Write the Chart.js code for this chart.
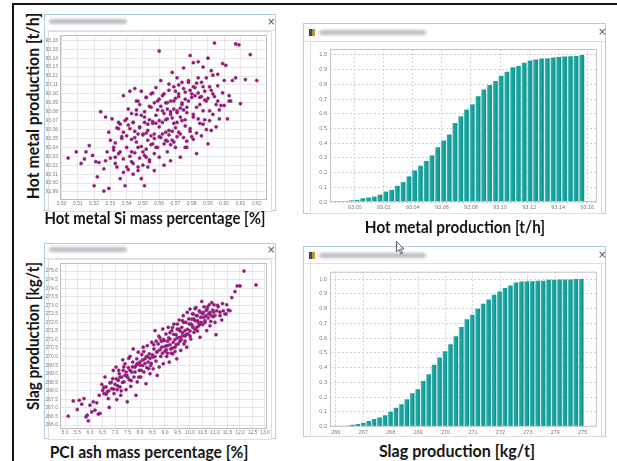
<!DOCTYPE html>
<html><head><meta charset="utf-8">
<script src="https://cdn.jsdelivr.net/npm/chart.js@4.4.1/dist/chart.umd.min.js"></script>
<style>
html,body{margin:0;padding:0;background:#fff;width:617px;height:461px;overflow:hidden;position:relative;font-family:'Liberation Sans',sans-serif;}
.frame{position:absolute;left:12px;top:3px;width:700px;height:520px;border:2px solid #141414;}
.win{position:absolute;background:#fff;border:1px solid #b3cde0;box-sizing:border-box;}
.tbar{position:absolute;left:0;right:0;top:0;background:#fff;border-bottom:1px solid #e4e4e4;}
.blur{position:absolute;height:5px;background:#b9bec4;border-radius:3px;filter:blur(1.4px);}
.close{position:absolute;font:10px 'DejaVu Sans',sans-serif;color:#555;line-height:10px;}
.icon{position:absolute;width:6px;height:7px;background:linear-gradient(90deg,#2a4c78 0 45%,#c98a2a 45% 100%);}
.panel{position:absolute;border:1px solid #dedede;background:#fff;box-sizing:border-box;}
canvas{position:absolute;}
.lbl{position:absolute;white-space:nowrap;font:700 17px Lato,'Open Sans',sans-serif;color:#161616;line-height:20px;}
</style></head>
<body>
<div class="frame"></div>

<div class="win" style="left:44px;top:14px;width:232px;height:197px;">
  <div class="tbar" style="height:15px;"><div class="blur" style="left:4px;top:4px;width:78px;"></div><div class="close" style="left:222px;top:2px;">×</div></div>
  <div class="panel" style="left:3px;right:3px;top:16px;bottom:-2px;"></div>
</div>
<div class="win" style="left:303px;top:23px;width:303px;height:191px;">
  <div class="tbar" style="height:17px;"><div class="icon" style="left:5px;top:5px;"></div><div class="blur" style="left:15px;top:6px;width:107px;"></div><div class="close" style="left:294px;top:3px;">×</div></div>
  <div class="panel" style="left:6px;right:3px;top:17px;bottom:-1px;"></div>
</div>
<div class="win" style="left:44px;top:243px;width:232px;height:196px;">
  <div class="tbar" style="height:14px;"><div class="blur" style="left:4px;top:3px;width:78px;"></div><div class="close" style="left:222px;top:1px;">×</div></div>
  <div class="panel" style="left:3px;right:3px;top:15px;bottom:-2px;"></div>
</div>
<div class="win" style="left:303px;top:246px;width:303px;height:191px;">
  <div class="tbar" style="height:16px;"><div class="icon" style="left:5px;top:5px;"></div><div class="blur" style="left:15px;top:6px;width:107px;"></div><div class="close" style="left:294px;top:3px;">×</div></div>
  <div class="panel" style="left:6px;right:3px;top:16px;bottom:-1px;"></div>
</div>

<canvas id="c1" width="232" height="178" style="left:44px;top:30px;width:232px;height:178px;"></canvas>
<canvas id="c2" width="294" height="172" style="left:308px;top:41px;width:294px;height:172px;"></canvas>
<canvas id="c3" width="232" height="180" style="left:44px;top:258px;width:232px;height:180px;"></canvas>
<canvas id="c4" width="294" height="172" style="left:308px;top:264px;width:294px;height:172px;"></canvas>

<div class="lbl" data-w="186" data-r="1" style="left:33px;top:106px;">Hot metal production [t/h]</div>
<div class="lbl" data-w="221" style="left:155px;top:218px;">Hot metal Si mass percentage [%]</div>
<div class="lbl" data-w="180" style="left:455px;top:227px;">Hot metal production [t/h]</div>
<div class="lbl" data-w="148" data-r="1" style="left:33px;top:336px;">Slag production [kg/t]</div>
<div class="lbl" data-w="199" style="left:149px;top:452px;">PCI ash mass percentage [%]</div>
<div class="lbl" data-w="156" style="left:457px;top:451px;">Slag production [kg/t]</div>

<svg style="position:absolute;left:396px;top:241px;" width="10" height="14" viewBox="0 0 10 14"><path d="M0.5 0.5 L0.5 11 L3 8.5 L5 13 L6.5 12.3 L4.6 8 L8 8 Z" fill="#fff" stroke="#333" stroke-width="0.8"/></svg>

<script>
// ---- Data ----
// Top-left: Hot metal Si mass percentage [%] (x) vs Hot metal production [t/h] (y)
const siMassVsHotMetal = [
[0.504,93.028],[0.509,93.035],[0.512,93.022],[0.514,93.027],[0.517,93.042],[0.515,93.035],[0.519,93.031],[0.520,92.997],[0.521,93.024],[0.522,93.007],
[0.523,93.023],[0.526,92.991],[0.526,93.016],[0.527,93.025],[0.524,93.080],[0.527,93.074],[0.529,92.994],[0.528,93.035],[0.529,93.057],[0.530,93.048],
[0.531,93.072],[0.532,93.040],[0.533,93.029],[0.533,93.045],[0.534,93.018],[0.535,93.061],[0.535,93.068],[0.536,93.005],[0.536,93.035],[0.537,93.052],
[0.538,93.098],[0.538,93.027],[0.539,92.997],[0.540,93.018],[0.540,93.040],[0.540,93.072],[0.541,93.083],[0.542,93.103],[0.542,93.061],[0.543,93.035],
[0.543,93.024],[0.544,93.010],[0.544,93.068],[0.545,93.106],[0.545,93.051],[0.546,93.092],[0.546,93.077],[0.547,93.040],[0.547,93.018],[0.548,93.063],
[0.548,93.088],[0.549,93.005],[0.549,93.103],[0.550,93.035],[0.550,93.055],[0.551,92.997],[0.551,93.074],[0.552,93.096],[0.552,93.029],[0.553,93.048],
[0.553,93.059],[0.554,93.071],[0.554,93.024],[0.555,93.085],[0.555,93.100],[0.556,93.044],[0.556,93.067],[0.557,93.014],[0.557,93.055],[0.558,93.076],
[0.558,93.107],[0.559,93.040],[0.559,93.092],[0.560,93.029],[0.560,93.148],[0.560,93.063],[0.561,93.115],[0.561,93.051],[0.562,93.081],[0.563,93.020],
[0.563,93.100],[0.564,93.048],[0.564,93.071],[0.565,93.035],[0.565,93.090],[0.566,93.059],[0.566,93.111],[0.567,93.025],[0.567,93.077],[0.568,93.124],
[0.568,93.048],[0.569,93.092],[0.569,93.067],[0.570,93.103],[0.570,93.040],[0.571,93.081],[0.571,93.118],[0.572,93.057],[0.572,93.100],[0.573,93.029],
[0.573,93.074],[0.574,93.113],[0.574,93.088],[0.575,93.051],[0.575,93.129],[0.576,93.071],[0.576,93.102],[0.577,93.040],[0.577,93.085],[0.578,93.115],
[0.579,93.061],[0.579,93.143],[0.580,93.096],[0.581,93.074],[0.581,93.135],[0.581,93.049],[0.582,93.107],[0.583,93.085],[0.583,93.033],[0.584,93.118],
[0.584,93.136],[0.585,93.067],[0.585,93.096],[0.586,93.053],[0.586,93.113],[0.587,93.081],[0.587,93.130],[0.588,93.103],[0.588,93.071],[0.589,93.092],
[0.589,93.118],[0.590,93.140],[0.590,93.044],[0.591,93.108],[0.591,93.081],[0.592,93.126],[0.592,93.059],[0.593,93.100],[0.593,93.121],[0.594,93.157],
[0.595,93.088],[0.595,93.063],[0.596,93.109],[0.596,93.122],[0.597,93.072],[0.598,93.087],[0.599,93.101],[0.599,93.134],[0.600,93.115],[0.601,93.132],
[0.602,93.072],[0.603,93.098],[0.604,93.092],[0.605,93.115],[0.607,93.156],[0.607,93.118],[0.609,93.155],[0.610,93.089],[0.613,93.116],[0.616,93.144],
[0.620,93.115],
[0.548,93.062],[0.551,93.068],[0.553,93.066],[0.556,93.069],[0.558,93.067],[0.560,93.070],[0.562,93.068],[0.565,93.072],[0.545,93.058],[0.547,93.055],
[0.550,93.054],[0.552,93.056],[0.555,93.053],[0.557,93.050],[0.560,93.052],[0.562,93.055],[0.564,93.057],[0.566,93.054],[0.568,93.058],[0.570,93.062],
[0.567,93.080],[0.569,93.083],[0.571,93.079],[0.573,93.084],[0.575,93.082],[0.577,93.079],[0.574,93.090],[0.576,93.094],[0.578,93.092],[0.580,93.100],
[0.582,93.098],[0.584,93.101],[0.579,93.104],[0.581,93.108],[0.586,93.097],[0.588,93.093],[0.590,93.095],[0.563,93.044],[0.565,93.047],[0.567,93.043],
[0.569,93.046],[0.571,93.052],[0.573,93.055],[0.558,93.040],[0.555,93.043],[0.552,93.038],[0.549,93.041],[0.546,93.046],[0.543,93.049],[0.540,93.053],
[0.538,93.057],[0.541,93.065],[0.544,93.068],[0.536,93.066],[0.539,93.070],[0.534,93.062],[0.537,93.050],[0.542,93.030],[0.545,93.034],[0.548,93.028],
[0.551,93.031],[0.554,93.026],[0.557,93.033],[0.544,93.022],[0.547,93.014],[0.550,93.020],[0.553,93.018],[0.535,93.033],[0.532,93.037],[0.530,93.028],
[0.533,93.022],[0.538,93.012],[0.541,93.015],[0.559,93.082],[0.561,93.086],[0.563,93.078],[0.565,93.083],[0.560,93.094],[0.562,93.098],[0.557,93.090],
[0.554,93.086],[0.551,93.080],[0.549,93.076],[0.546,93.082],[0.543,93.078],[0.547,93.092],[0.552,93.096],[0.556,93.101],[0.566,93.104],[0.569,93.108],
[0.572,93.110],[0.575,93.106],[0.578,93.113],[0.583,93.112],[0.587,93.108],[0.592,93.104],[0.594,93.097],[0.596,93.092],[0.585,93.088],[0.581,93.077],
[0.584,93.072],[0.587,93.066],[0.589,93.060],[0.576,93.064],[0.579,93.058],[0.574,93.070],[0.571,93.068],[0.568,93.073],[0.570,93.095],[0.567,93.092],
[0.564,93.090],[0.572,93.097],[0.591,93.070],[0.593,93.077],[0.597,93.082],[0.600,93.087],[0.603,93.092],[0.577,93.047],[0.580,93.052],[0.583,93.056],
[0.576,93.040]
];

// Bottom-left: PCI ash mass percentage [%] (x) vs Slag production [kg/t] (y)
const pciAshVsSlag = [
[5.13,266.52],[5.33,267.41],[5.49,266.91],[5.57,267.45],[5.67,267.22],[5.76,267.55],[5.84,266.48],[5.93,266.25],[5.89,266.58],[6.00,267.16],
[6.07,266.77],[6.13,267.36],[6.20,266.87],[6.27,267.30],[6.33,266.64],[6.40,266.68],[6.37,267.74],[6.47,268.38],[6.51,268.03],[6.56,267.84],
[6.60,268.81],[6.64,268.23],[6.69,267.94],[6.73,267.55],[6.77,267.03],[6.80,268.46],[6.87,268.13],[6.91,268.71],[6.93,269.19],[6.96,267.84],
[7.00,268.38],[7.04,269.39],[7.07,267.49],[7.09,268.07],[7.13,268.61],[7.17,269.00],[7.20,268.23],[7.23,267.74],[7.27,268.81],[7.31,269.81],
[7.33,269.19],[7.36,268.52],[7.40,269.58],[7.44,268.07],[7.47,268.90],[7.49,267.36],[7.53,269.36],[7.57,268.65],[7.60,270.01],[7.63,268.26],
[7.67,269.10],[7.71,269.68],[7.73,270.45],[7.76,268.81],[7.80,269.39],[7.84,267.74],[7.87,269.87],[7.89,268.52],[7.93,270.26],[7.97,269.19],
[8.00,269.68],[8.03,268.81],[8.07,270.12],[8.11,269.48],[8.13,270.55],[8.16,269.10],[8.20,269.87],[8.24,268.42],[8.27,269.36],[8.29,270.64],
[8.33,269.68],[8.37,270.16],[8.40,269.00],[8.43,269.48],[8.47,270.84],[8.51,269.97],[8.53,269.29],[8.56,270.45],[8.60,271.52],[8.64,269.74],
[8.67,270.26],[8.69,268.90],[8.73,270.74],[8.77,269.39],[8.80,271.09],[8.83,270.01],[8.87,270.55],[8.91,271.61],[8.93,269.58],[8.96,270.93],
[9.00,270.32],[9.04,271.32],[9.07,270.01],[9.09,270.64],[9.13,271.71],[9.17,269.68],[9.20,271.03],[9.23,270.45],[9.27,271.52],[9.31,270.16],
[9.33,270.84],[9.36,271.90],[9.40,270.55],[9.44,271.28],[9.47,269.87],[9.49,271.61],[9.53,270.74],[9.57,272.14],[9.60,271.13],[9.63,270.36],
[9.67,271.71],[9.71,271.22],[9.73,272.39],[9.76,270.74],[9.80,271.52],[9.84,272.00],[9.87,270.55],[9.89,272.58],[9.93,271.32],[9.97,271.90],
[10.00,272.78],[10.03,271.03],[10.07,272.19],[10.11,271.71],[10.13,272.49],[10.16,271.42],[10.20,272.10],[10.24,272.87],[10.27,271.71],[10.29,272.39],
[10.33,272.00],[10.37,272.68],[10.40,271.13],[10.43,272.29],[10.47,273.22],[10.51,271.87],[10.53,272.58],[10.56,272.91],[10.60,272.10],[10.64,272.39],
[10.67,271.52],[10.69,272.78],[10.73,272.26],[10.77,273.03],[10.80,272.58],[10.83,272.06],[10.87,273.16],[10.91,272.72],[10.93,272.33],[10.96,273.03],
[11.00,272.00],[11.04,271.28],[11.07,272.68],[11.13,272.91],[11.20,272.39],[11.27,272.14],[11.33,272.68],[11.40,272.49],[11.47,273.03],[11.53,272.72],
[11.60,272.68],[11.67,273.45],[11.80,273.80],[11.89,274.13],[12.00,274.13],[12.16,275.00],[12.64,274.19],
[8.50,270.1],[8.60,270.0],[8.70,270.3],[8.80,270.4],[8.90,270.2],[9.00,270.6],[9.10,270.9],[9.20,270.7],[9.30,270.5],[9.40,271.0],
[9.50,271.1],[9.60,270.9],[9.70,271.4],[9.80,271.2],[9.90,271.6],[10.00,271.5],[10.10,271.8],[10.20,271.6],[10.30,272.1],[10.40,271.9],
[8.00,269.5],[8.10,269.8],[8.20,269.6],[8.30,270.0],[8.40,269.9],[7.90,269.6],[7.80,269.1],[7.70,269.4],[7.60,269.2],[7.50,268.8],
[7.40,268.9],[7.30,268.5],[7.20,268.8],[7.10,268.3],[9.05,270.4],[9.15,271.1],[9.25,270.2],[9.35,271.3],[9.45,270.7],[9.55,271.6],
[9.65,271.0],[9.75,272.0],[9.85,271.3],[9.95,272.2],[10.05,271.9],[10.15,272.2],[10.25,272.4],[10.35,271.8],[10.45,272.0],[10.55,272.3],
[10.65,272.7],[10.75,272.5],[10.85,272.4],[10.95,272.6],[8.55,270.7],[8.65,270.9],[8.75,271.2],[8.85,270.9],[8.95,271.0],[8.45,269.6],
[8.35,269.3],[8.25,270.0],[8.15,270.3],[8.05,269.2],[7.95,268.8],[7.85,269.5],[7.65,268.6],[7.55,269.9],[6.95,268.1],[6.85,268.5],
[6.75,268.0],[6.65,267.8],[6.55,268.2],[7.05,268.7],[7.15,269.2],[7.25,268.0],[7.35,269.4],[7.45,269.1],[9.10,270.2],[9.20,271.4],
[9.30,271.7],[9.40,270.3],[9.50,271.9],[9.60,271.5],[9.70,272.1],[9.80,270.9],[10.00,271.2],[10.10,272.5],[10.20,272.8],[10.30,271.5],
[10.40,272.6],[10.50,272.5],[10.60,272.0],[10.70,272.9],[10.80,271.8],[11.00,272.4],[11.10,273.0],[11.20,272.6],[11.30,273.1],[11.45,272.5]
];

// Top-right: cumulative distribution of hot metal production [t/h]
const hotMetalBins = [92.9935,92.9975,93.0014,93.0054,93.0094,93.0133,93.0173,93.0213,93.0253,93.0292,
93.0332,93.0372,93.0411,93.0451,93.0491,93.0530,93.0570,93.0610,93.0649,93.0689,
93.0729,93.0768,93.0808,93.0848,93.0887,93.0927,93.0967,93.1006,93.1046,93.1086,
93.1125,93.1165,93.1205,93.1244,93.1284,93.1324,93.1364,93.1403,93.1443,93.1483,
93.1522,93.1562];
const hotMetalCum = [0.004,0.011,0.014,0.025,0.030,0.037,0.050,0.071,0.082,0.110,
0.135,0.174,0.215,0.247,0.279,0.317,0.372,0.418,0.459,0.537,
0.582,0.628,0.664,0.719,0.765,0.795,0.822,0.858,0.886,0.916,
0.925,0.947,0.961,0.968,0.975,0.977,0.982,0.986,0.989,0.991,
0.993,1.000];
const hotMetalBinWidth = 0.003967;

// Bottom-right: cumulative distribution of slag production [kg/t]
const slagBins = [266.199,266.398,266.596,266.795,266.994,267.193,267.391,267.590,267.789,267.988,
268.186,268.385,268.584,268.782,268.981,269.180,269.379,269.577,269.776,269.975,
270.173,270.372,270.571,270.770,270.968,271.167,271.366,271.564,271.763,271.962,
272.160,272.359,272.558,272.757,272.955,273.154,273.353,273.551,273.750,273.949,
274.148,274.346,274.545,274.744,274.942];
const slagCum = [0.002,0.007,0.014,0.018,0.027,0.038,0.052,0.063,0.077,0.102,
0.129,0.152,0.186,0.226,0.253,0.310,0.355,0.419,0.468,0.511,
0.559,0.613,0.676,0.728,0.758,0.799,0.833,0.862,0.894,0.916,
0.939,0.957,0.977,0.984,0.986,0.986,0.989,0.989,0.995,0.995,
0.998,0.998,0.998,1.000,1.000];
const slagBinWidth = 0.1987;

// Axis ranges and tick steps
const axTL = {xMin:0.499, xMax:0.6263, xStep:0.01, xDec:2, yMin:92.981, yMax:93.166, yStep:0.01, yDec:2};
const axBL = {xMin:4.8, xMax:13.08, xStep:0.5, xDec:1, yMin:265.77, yMax:275.47, yStep:0.5, yDec:1};
const axTR = {xMin:92.983, xMax:93.1667, xStep:0.02, xDec:2, yMin:0, yMax:1.04, yStep:0.1, yDec:1};
const axBR = {xMin:265.79, xMax:275.52, xStep:1, xDec:0, yMin:0, yMax:1.05, yStep:0.1, yDec:1};

// ---- Chart building ----
const framePlugin = {
  id:'frame',
  afterDatasetsDraw(chart, args, opts){
    const a = chart.chartArea, ctx = chart.ctx;
    ctx.save(); ctx.strokeStyle = opts.color || '#bdbdbd'; ctx.lineWidth = opts.width || 1;
    ctx.strokeRect(a.left+0.5, a.top+0.5, a.right-a.left-1, a.bottom-a.top-1);
    ctx.restore();
  }
};

function scalesFor(ax, layout, gridStyle){
  const tickFont = {family:"'Liberation Sans', sans-serif", size: layout.fs};
  const grid = {color: gridStyle.color, lineWidth:1, drawTicks:false, offset:false};
  const border = {display:false, dash: gridStyle.dash};
  return {
    x:{type:'linear', min:ax.xMin, max:ax.xMax, offset:false, grid:{...grid}, border:{...border},
       ticks:{stepSize:ax.xStep, includeBounds:false, autoSkip:false, maxRotation:0, padding:layout.xPad, color:'#7a7a7a', font:tickFont,
              callback:v=>Number(v).toFixed(ax.xDec)},
       afterFit:s=>{s.height = layout.xH;}},
    y:{type:'linear', min:ax.yMin, max:ax.yMax, grid:{...grid}, border:{...border},
       ticks:{stepSize:ax.yStep, includeBounds:false, autoSkip:false, padding:layout.yPad, color:'#7a7a7a', font:tickFont,
              callback:v=>Number(v).toFixed(ax.yDec)},
       afterFit:s=>{s.width = layout.yW;}}
  };
}

function baseOpts(ax, layout, gridStyle, frameColor){
  return {
    responsive:false, devicePixelRatio:1, animation:false, events:[],
    layout:{padding:{top:layout.pt, right:layout.pr, left:0, bottom:0}},
    plugins:{legend:{display:false}, tooltip:{enabled:false}, frame:{color:frameColor, width:1}},
    scales: scalesFor(ax, layout, gridStyle)
  };
}

function scatterChart(id, pts, ax, layout){
  return new Chart(document.getElementById(id), {
    type:'scatter',
    data:{datasets:[{data:pts.map(p=>({x:p[0], y:p[1]})), backgroundColor:'#b0125c', borderColor:'#6d2fa4',
      borderWidth:0.5, pointRadius:1.6}]},
    options: baseOpts(ax, layout, {color:'#e6e6e6', dash:[]}, '#bcbcbc'),
    plugins:[framePlugin]
  });
}

function tealFill(binW){
  return (c)=>{
    const ch = c.chart, xs = ch.scales && ch.scales.x;
    if (c.type !== 'data' || !xs || !c.raw) return '#17a29d';
    const x0 = xs.getPixelForValue(c.raw.x - binW*0.44), x1 = xs.getPixelForValue(c.raw.x + binW*0.44);
    if (!isFinite(x0) || !isFinite(x1) || x1 <= x0) return '#17a29d';
    const g = ch.ctx.createLinearGradient(x0, 0, x1, 0);
    g.addColorStop(0, '#93d8d4'); g.addColorStop(0.22, '#23aaa5');
    g.addColorStop(0.7, '#139f9a'); g.addColorStop(1, '#0a8884');
    return g;
  };
}

function cumChart(id, bins, vals, binW, ax, layout){
  const ch = new Chart(document.getElementById(id), {
    type:'bar',
    data:{datasets:[{data:bins.map((b,i)=>({x:b, y:vals[i]})), backgroundColor:tealFill(binW),
      borderWidth:0, categoryPercentage:1.0, barPercentage:0.88}]},
    options: baseOpts(ax, layout, {color:'#d2d2d2', dash:[2,2]}, '#c4c4c4'),
    plugins:[framePlugin]
  });
  ch.update('none');
  return ch;
}

scatterChart('c1', siMassVsHotMetal, axTL, {yW:16, xH:8, pt:4, pr:9, xPad:1, yPad:2, fs:5});
cumChart('c2', hotMetalBins, hotMetalCum, hotMetalBinWidth, axTR, {yW:22, xH:11, pt:8, pr:5, xPad:2, yPad:3, fs:5.5});
scatterChart('c3', pciAshVsSlag, axBL, {yW:16, xH:9, pt:4, pr:9, xPad:1, yPad:2, fs:5});
cumChart('c4', slagBins, slagCum, slagBinWidth, axBR, {yW:22, xH:9.3, pt:7.7, pr:5, xPad:2, yPad:3, fs:5.5});

// ---- Fit the big axis labels to their widths in the reference ----
document.querySelectorAll('.lbl').forEach(el=>{
  const w = el.offsetWidth, target = +el.dataset.w;
  const k = target / w;
  const rot = el.dataset.r ? ' rotate(-90deg)' : '';
  el.style.transform = 'translate(-50%,-50%)' + rot + ' scaleX(' + k.toFixed(3) + ')';
});
</script>
</body></html>
